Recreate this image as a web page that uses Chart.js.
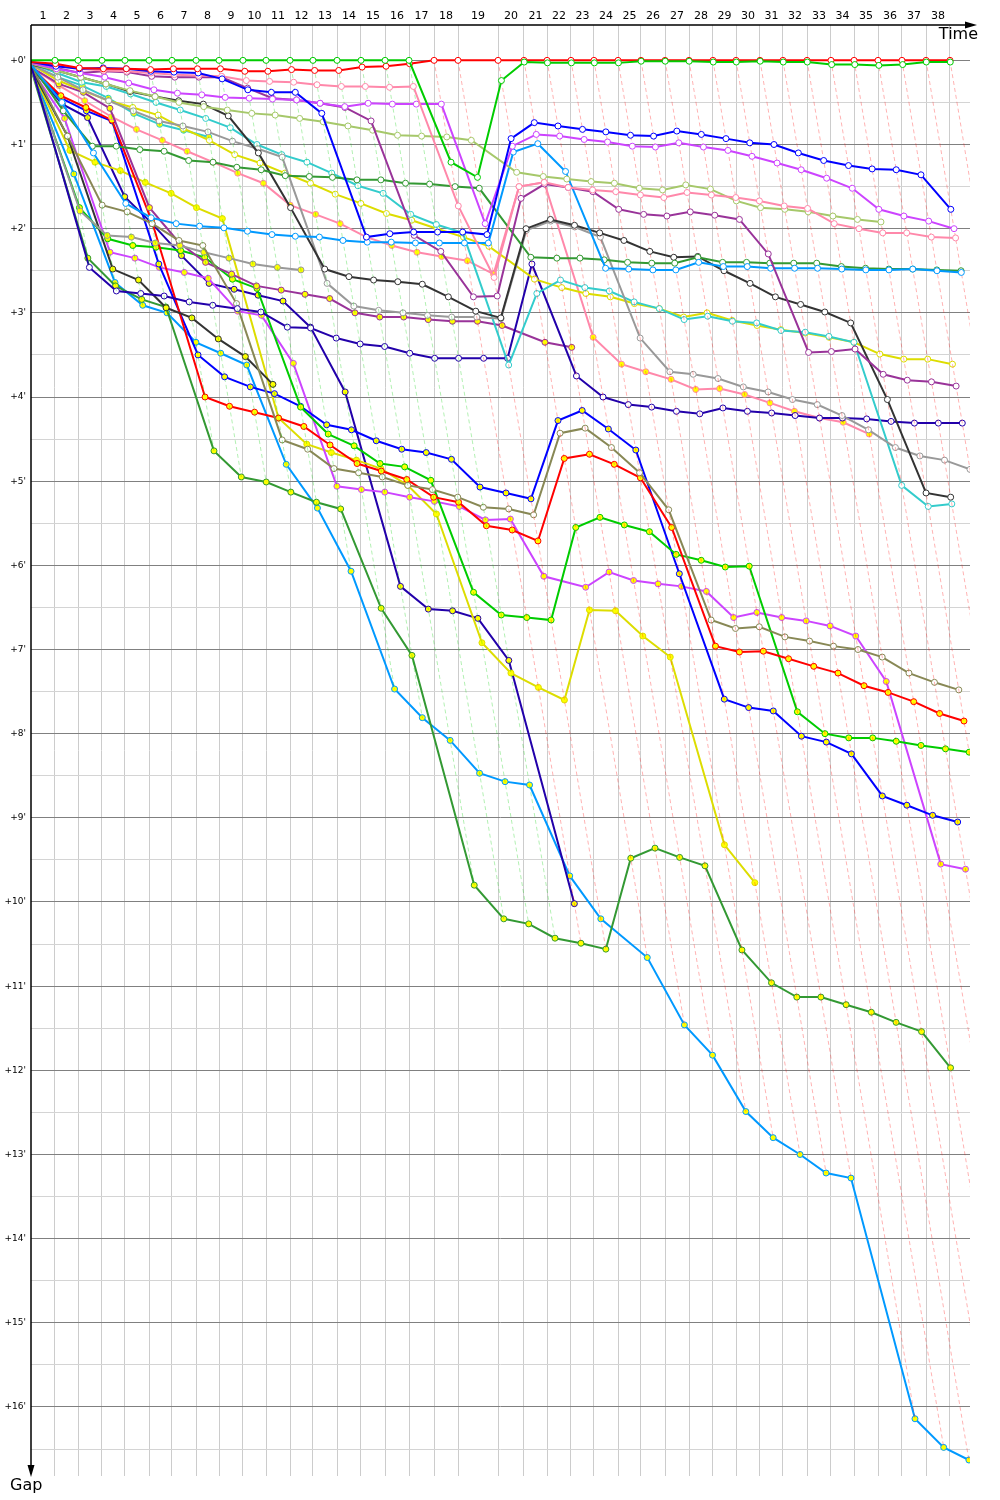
<!DOCTYPE html>
<html>
<head>
<meta charset="utf-8">
<script src="https://cdn.jsdelivr.net/npm/chart.js@4.4.1/dist/chart.umd.min.js"></script>
<style>
  html, body { margin: 0; padding: 0; background: #fff; }
  #wrap { width: 1000px; height: 1500px; position: relative; }
</style>
</head>
<body>
<div id="wrap"><canvas id="gapChart"></canvas></div>
<script>
// leader's elapsed time (minutes) at the end of each lap, lap 0 = start
const leaderTimes = [0, 1.71, 3.36, 5.07, 6.71, 8.43, 10.07, 11.79, 13.43, 15.14, 16.79,
  18.5, 20.14, 21.86, 23.57, 25.29, 27.0, 28.79, 30.5, 33.36, 35.21, 36.86, 38.57, 40.21,
  41.93, 43.57, 45.29, 47.0, 48.71, 50.36, 52.07, 53.71, 55.43, 57.14, 58.79, 60.5, 62.21,
  63.93, 65.64];
const lapNumbers = [1, 2, 3, 4, 5, 6, 7, 8, 9, 10, 11, 12, 13, 14, 15, 16, 17, 18, 19, 20,
  21, 22, 23, 24, 25, 26, 27, 28, 29, 30, 31, 32, 33, 34, 35, 36, 37, 38];
const gapMinutes = [0, 1, 2, 3, 4, 5, 6, 7, 8, 9, 10, 11, 12, 13, 14, 15, 16];

// gap to leader (minutes) per lap, index = lap
const greenW = [0, 0, 0, 0, 0, 0, 0, 0, 0, 0, 0, 0, 0, 0, 0, 0, 0, 1.21, 1.39, 0.24, 0.02,
  0.03, 0.03, 0.03, 0.03, 0.01, 0.01, 0.01, 0.02, 0.02, 0.01, 0.02, 0.02, 0.05, 0.05, 0.06, 0.05, 0.02, 0.02];
const redW = [0.02, 0.04, 0.09, 0.1, 0.1, 0.11, 0.1, 0.1, 0.1, 0.13, 0.13, 0.11, 0.12, 0.12, 0.08, 0.07, 0.04,
  0, 0, 0, 0, 0, 0, 0, 0, 0, 0, 0, 0, 0, 0, 0, 0, 0, 0, 0, 0, 0, 0];
const pinkW = [0.03, 0.05, 0.1, 0.12, 0.13, 0.15, 0.17, 0.18, 0.19, 0.24, 0.25, 0.26, 0.29, 0.31, 0.31, 0.32, 0.31,
  1.73, 2.58, 1.5, 1.45, 1.51, 1.54, 1.56, 1.6, 1.63, 1.57, 1.6, 1.63, 1.67, 1.73, 1.76, 1.94, 2.0, 2.05, 2.05, 2.1, 2.11];
const blueW = [0.02, 0.07, 0.1, 0.09, 0.1, 0.13, 0.14, 0.15, 0.22, 0.35, 0.38, 0.38, 0.63, 2.1, 2.06, 2.04, 2.04, 2.04, 2.07,
  0.93, 0.74, 0.78, 0.82, 0.85, 0.89, 0.9, 0.84, 0.88, 0.93, 0.98, 1.0, 1.1, 1.19, 1.25, 1.29, 1.3, 1.36, 1.77];
const purpleW = [0.03, 0.09, 0.15, 0.13, 0.14, 0.19, 0.2, 0.2, 0.2, 0.33, 0.45, 0.47, 0.51, 0.56, 0.72, 2.08, 2.27, 2.81, 2.8,
  1.64, 1.47, 1.51, 1.56, 1.77, 1.83, 1.85, 1.8, 1.84, 1.89, 2.3, 3.47, 3.46, 3.43, 3.73, 3.8, 3.82, 3.87];
const violetW = [0.03, 0.1, 0.15, 0.2, 0.27, 0.35, 0.39, 0.41, 0.44, 0.45, 0.46, 0.47, 0.51, 0.55, 0.51, 0.52, 0.52, 0.52, 1.94,
  1.02, 0.88, 0.9, 0.94, 0.97, 1.02, 1.03, 0.98, 1.03, 1.07, 1.14, 1.22, 1.3, 1.4, 1.52, 1.77, 1.85, 1.91, 2.0];
const oliveW = [0.04, 0.12, 0.2, 0.28, 0.36, 0.43, 0.5, 0.55, 0.59, 0.63, 0.65, 0.69, 0.73, 0.78, 0.83, 0.89, 0.9, 0.91, 0.95,
  1.33, 1.38, 1.41, 1.44, 1.46, 1.52, 1.54, 1.48, 1.53, 1.67, 1.75, 1.77, 1.8, 1.85, 1.89, 1.92];
const blackW = [0.05, 0.12, 0.2, 0.28, 0.37, 0.43, 0.48, 0.52, 0.66, 1.1, 1.75, 2.48, 2.57, 2.61, 2.63, 2.66, 2.81, 2.98, 3.06,
  2.0, 1.89, 1.96, 2.05, 2.14, 2.27, 2.34, 2.33, 2.5, 2.65, 2.81, 2.9, 2.99, 3.12, 4.03, 5.14, 5.19];
const grayW = [0.05, 0.2, 0.35, 0.48, 0.6, 0.72, 0.78, 0.85, 0.96, 1.05, 1.15, 2.65, 2.92, 2.97, 3.0, 3.03, 3.05, 3.05, 3.07,
  2.02, 1.91, 1.98, 2.1, 3.3, 3.7, 3.73, 3.78, 3.88, 3.94, 4.03, 4.09, 4.22, 4.39, 4.6, 4.7, 4.75, 4.86];
const cyanW = [0.04, 0.15, 0.26, 0.31, 0.4, 0.5, 0.59, 0.69, 0.8, 1.0, 1.12, 1.21, 1.34, 1.49, 1.58, 1.83, 1.95, 2.05, 3.62,
  2.77, 2.61, 2.7, 2.74, 2.87, 2.95, 3.08, 3.04, 3.1, 3.12, 3.21, 3.23, 3.28, 3.35, 5.05, 5.3, 5.27];
const skyW = [0.05, 0.5, 1.1, 1.7, 1.87, 1.94, 1.97, 1.99, 2.03, 2.07, 2.09, 2.1, 2.14, 2.16, 2.16, 2.17, 2.17, 2.17, 2.17,
  1.09, 0.99, 1.32, 2.47, 2.48, 2.49, 2.49, 2.4, 2.45, 2.45, 2.47, 2.47, 2.47, 2.48, 2.49, 2.49, 2.48, 2.5, 2.52];
const forestW = [0.05, 0.6, 1.02, 1.02, 1.06, 1.08, 1.19, 1.21, 1.27, 1.3, 1.37, 1.38, 1.39, 1.42, 1.42, 1.46, 1.47, 1.5, 1.52,
  2.34, 2.35, 2.35, 2.37, 2.4, 2.41, 2.41, 2.34, 2.4, 2.4, 2.41, 2.41, 2.41, 2.45, 2.47, 2.48, 2.48, 2.49, 2.5];
const navyW = [0.06, 2.46, 2.74, 2.77, 2.8, 2.87, 2.91, 2.95, 2.99, 3.17, 3.18, 3.3, 3.37, 3.4, 3.48, 3.54, 3.54, 3.54, 3.54,
  2.42, 3.75, 4.0, 4.09, 4.12, 4.17, 4.2, 4.13, 4.17, 4.19, 4.22, 4.25, 4.25, 4.26, 4.29, 4.31, 4.31, 4.31];
const khakiW = [0.06, 0.9, 1.72, 1.8, 1.94, 2.14, 2.2, 2.89, 4.51, 4.62, 4.85, 4.9, 4.95, 5.05, 5.1, 5.19, 5.31, 5.33, 5.4,
  4.43, 4.37, 4.6, 4.9, 5.34, 6.65, 6.75, 6.73, 6.85, 6.9, 6.96, 7.0, 7.09, 7.28, 7.39, 7.48];
const yellowW = [0.05, 0.24, 0.36, 0.48, 0.56, 0.65, 0.81, 0.95, 1.12, 1.22, 1.34, 1.46, 1.59, 1.7, 1.82, 1.9, 2.0, 2.1, 2.21,
  2.6, 2.7, 2.77, 2.81, 2.89, 2.95, 3.05, 3.0, 3.09, 3.15, 3.2, 3.24, 3.29, 3.35, 3.49, 3.55, 3.55, 3.61];

const yellowY = [0.1, 1.07, 1.21, 1.31, 1.45, 1.58, 1.75, 1.88, 4.25, 4.56, 4.66, 4.75, 4.85, 5.05, 5.39, 6.92, 7.28, 7.45, 7.6,
  6.53, 6.54, 6.84, 7.09, 9.32, 9.77];
const pinkY = [0.08, 0.3, 0.48, 0.67, 0.82, 0.95, 1.08, 1.21, 1.34, 1.46, 1.72, 1.83, 1.94, 2.1, 2.2, 2.28, 2.33, 2.38, 2.54,
  1.5, 1.45, 3.29, 3.61, 3.7, 3.79, 3.91, 3.9, 3.97, 4.07, 4.17, 4.25, 4.3, 4.44];
const skyY = [0.1, 1.35, 2.64, 2.91, 3.0, 3.35, 3.48, 3.62, 4.8, 5.32, 6.07, 7.47, 7.81, 8.08, 8.47, 8.57, 8.61, 9.69, 10.2,
  10.66, 11.46, 11.82, 12.49, 12.8, 13.0, 13.22, 13.28, 16.14, 16.48, 16.63];
const forestY = [0.1, 2.35, 2.68, 2.84, 2.93, 4.64, 4.95, 5.01, 5.13, 5.25, 5.33, 6.51, 7.07, 9.8, 10.2, 10.26, 10.43, 10.49, 10.56,
  9.48, 9.36, 9.47, 9.57, 10.57, 10.96, 11.13, 11.13, 11.22, 11.31, 11.43, 11.54, 11.97];
const greenY = [0.1, 1.75, 2.12, 2.2, 2.22, 2.26, 2.34, 2.6, 2.71, 4.12, 4.44, 4.58, 4.79, 4.83, 4.99, 6.32, 6.59, 6.62, 6.65,
  5.55, 5.43, 5.52, 5.6, 5.87, 5.94, 6.02, 6.01, 7.74, 8.0, 8.05, 8.05, 8.09, 8.14, 8.18, 8.22];
const redY = [0.08, 0.42, 0.56, 0.71, 1.9, 4.0, 4.11, 4.18, 4.25, 4.35, 4.57, 4.79, 4.88, 4.98, 5.19, 5.25, 5.53, 5.58, 5.71,
  4.73, 4.68, 4.8, 4.96, 5.55, 6.96, 7.03, 7.02, 7.11, 7.2, 7.28, 7.43, 7.51, 7.62, 7.76, 7.85];
const blueY = [0.08, 0.45, 0.6, 0.72, 2.42, 3.5, 3.76, 3.88, 3.96, 4.11, 4.33, 4.39, 4.52, 4.62, 4.66, 4.74, 5.07, 5.14, 5.21,
  4.28, 4.16, 4.38, 4.63, 6.1, 7.59, 7.69, 7.73, 8.03, 8.1, 8.24, 8.74, 8.85, 8.97, 9.05];
const navyY = [0.08, 0.52, 0.68, 1.62, 1.94, 2.32, 2.65, 2.72, 2.79, 2.86, 3.17, 3.94, 6.25, 6.52, 6.54, 6.63, 7.13, 10.02];
const violetY = [0.1, 0.69, 2.28, 2.35, 2.46, 2.52, 2.59, 2.98, 3.03, 3.6, 5.06, 5.1, 5.13, 5.19, 5.24, 5.3, 5.46, 5.45, 6.13,
  6.26, 6.08, 6.18, 6.22, 6.25, 6.31, 6.62, 6.56, 6.62, 6.66, 6.72, 6.84, 7.38, 9.55, 9.61];
const blackY = [0.1, 0.9, 2.48, 2.61, 2.94, 3.06, 3.31, 3.52, 3.85];
const purpleY = [0.08, 0.28, 0.38, 0.57, 1.75, 2.17, 2.4, 2.54, 2.68, 2.73, 2.78, 2.83, 3.0, 3.05, 3.05, 3.08, 3.1, 3.1, 3.15,
  3.35, 3.41];
const grayY = [0.1, 1.79, 2.08, 2.1, 2.17, 2.2, 2.28, 2.35, 2.42, 2.46, 2.49];
const cyanY = [0.05, 0.2, 0.3, 0.45, 0.63, 0.76, 0.83, 0.91];

const X_MAX = 67.07;
const GAP_MIN = -0.42;
const GAP_MAX = 16.82;

const cars = [
  { gaps: skyY, color: '#0099ff', dot: '#ffff00' },
  { gaps: forestY, color: '#339933', dot: '#ffff00' },
  { gaps: navyY, color: '#2200aa', dot: '#ffff00' },
  { gaps: yellowY, color: '#dddd00', dot: '#ffff00' },
  { gaps: violetY, color: '#cc44ff', dot: '#ffff00' },
  { gaps: blueY, color: '#0000ff', dot: '#ffff00' },
  { gaps: greenY, color: '#00cc00', dot: '#ffff00' },
  { gaps: redY, color: '#ff0000', dot: '#ffff00' },
  { gaps: pinkY, color: '#ff88aa', dot: '#ffff00' },
  { gaps: purpleY, color: '#993399', dot: '#ffff00' },
  { gaps: blackY, color: '#333333', dot: '#ffff00' },
  { gaps: grayY, color: '#999999', dot: '#ffff00' },
  { gaps: cyanY, color: '#33cccc', dot: '#ffff00' },
  { gaps: khakiW, color: '#888855', dot: '#ffffff' },
  { gaps: navyW, color: '#2200aa', dot: '#ffffff' },
  { gaps: yellowW, color: '#dddd00', dot: '#ffffff' },
  { gaps: cyanW, color: '#33cccc', dot: '#ffffff' },
  { gaps: grayW, color: '#999999', dot: '#ffffff' },
  { gaps: blackW, color: '#333333', dot: '#ffffff' },
  { gaps: forestW, color: '#339933', dot: '#ffffff' },
  { gaps: skyW, color: '#0099ff', dot: '#ffffff' },
  { gaps: oliveW, color: '#a6c86a', dot: '#ffffff' },
  { gaps: purpleW, color: '#993399', dot: '#ffffff' },
  { gaps: violetW, color: '#cc44ff', dot: '#ffffff' },
  { gaps: pinkW, color: '#ff88aa', dot: '#ffffff' },
  { gaps: blueW, color: '#0000ff', dot: '#ffffff' },
  { gaps: redW, color: '#ff0000', dot: '#ffffff' },
  { gaps: greenW, color: '#00cc00', dot: '#ffffff' }
];

const toPoints = gaps => gaps.map((g, lap) => ({ x: leaderTimes[lap] + (lap === 0 ? 0 : g), y: g }));

// a car still circling when the picture stops keeps the lap line open to the bottom
const stillRunning = c => {
  const last = c.gaps.length - 1;
  return leaderTimes[last] + c.gaps[last] + 1.5 > X_MAX;
};

const lapLines = [];
for (let lap = 1; lap < leaderTimes.length; lap++) {
  let depth = 0;
  let leader = cars[0];
  cars.forEach(c => {
    if (lap < c.gaps.length) {
      depth = Math.max(depth, c.gaps[lap]);
      if (c.gaps[lap] === 0) leader = c;
    } else if (stillRunning(c)) {
      depth = GAP_MAX;
    }
  });
  const t = leaderTimes[lap];
  const rgb = leader.color.match(/\w\w/g).map(h => parseInt(h, 16)).join(',');
  lapLines.push({
    data: [{ x: t, y: 0 }, { x: t + depth, y: depth }],
    borderColor: 'rgba(' + rgb + ',0.3)',
    borderWidth: 1,
    borderDash: [4, 3],
    pointRadius: 0,
    xAxisID: 'x',
    yAxisID: 'y',
    order: 10
  });
}

const carSets = cars.map((c, i) => ({
  data: toPoints(c.gaps),
  borderColor: c.color,
  borderWidth: 2,
  pointBackgroundColor: c.dot,
  pointBorderColor: c.color,
  pointBorderWidth: 1,
  pointRadius: ctx => (ctx.dataIndex === 0 ? 0 : 3),
  xAxisID: 'x',
  yAxisID: 'y',
  order: cars.length - i
}));

const axisArrows = {
  id: 'axisArrows',
  afterDraw(chart) {
    const { ctx, chartArea: a } = chart;
    ctx.save();
    ctx.strokeStyle = '#000';
    ctx.fillStyle = '#000';
    ctx.lineWidth = 1.5;
    ctx.beginPath();
    ctx.moveTo(a.left, a.top);
    ctx.lineTo(a.right - 4, a.top);
    ctx.moveTo(a.left, a.top);
    ctx.lineTo(a.left, a.bottom - 10);
    ctx.stroke();
    ctx.beginPath();
    ctx.moveTo(a.right + 7, a.top);
    ctx.lineTo(a.right - 5, a.top - 3.5);
    ctx.lineTo(a.right - 5, a.top + 3.5);
    ctx.closePath();
    ctx.fill();
    ctx.beginPath();
    ctx.moveTo(a.left, a.bottom + 1);
    ctx.lineTo(a.left - 3.5, a.bottom - 11);
    ctx.lineTo(a.left + 3.5, a.bottom - 11);
    ctx.closePath();
    ctx.fill();
    ctx.font = '16px "DejaVu Sans", sans-serif';
    ctx.textBaseline = 'top';
    ctx.textAlign = 'right';
    ctx.fillText('Time', a.right + 8, a.top + 2);
    ctx.textAlign = 'left';
    ctx.fillText('Gap', 10, a.bottom + 2);
    ctx.restore();
  }
};

new Chart(document.getElementById('gapChart'), {
  type: 'line',
  data: { datasets: carSets.concat(lapLines) },
  options: {
    responsive: true,
    maintainAspectRatio: false,
    animation: false,
    events: [],
    layout: { padding: { left: 0, right: 30, top: 0, bottom: 24 } },
    elements: { line: { tension: 0 } },
    plugins: { legend: { display: false }, tooltip: { enabled: false } },
    scales: {
      laps: {
        type: 'linear',
        axis: 'x',
        position: 'top',
        min: 0,
        max: X_MAX,
        afterBuildTicks: s => {
          s.ticks = lapNumbers.map((n, i) => ({ value: (leaderTimes[i] + leaderTimes[i + 1]) / 2 }));
        },
        ticks: {
          autoSkip: false,
          maxRotation: 0,
          padding: 2,
          color: '#000',
          font: { family: '"DejaVu Sans", sans-serif', size: 11 },
          callback: (v, i) => String(lapNumbers[i])
        },
        grid: { display: false, drawTicks: false },
        border: { display: false },
        afterFit: s => { s.height = 25; }
      },
      x: {
        type: 'linear',
        position: 'top',
        min: 0,
        max: X_MAX,
        afterBuildTicks: s => {
          s.ticks = leaderTimes.slice(1).map(v => ({ value: v }));
        },
        ticks: { display: false },
        grid: { color: '#cccccc', drawTicks: false },
        border: { display: false },
        afterFit: s => { s.height = 0; }
      },
      y: {
        type: 'linear',
        reverse: true,
        min: GAP_MIN,
        max: GAP_MAX,
        afterBuildTicks: s => {
          s.ticks = gapMinutes.flatMap(m => [{ value: m }, { value: m + 0.5 }]);
        },
        ticks: {
          autoSkip: false,
          padding: 5,
          color: '#000',
          font: { family: '"DejaVu Sans", sans-serif', size: 9 },
          callback: v => (Number.isInteger(v) ? "+" + v + "'" : '')
        },
        grid: {
          drawTicks: false,
          color: c => (c.tick && Number.isInteger(c.tick.value) ? '#808080' : '#d4d4d4')
        },
        border: { display: false },
        afterFit: s => { s.width = 31; }
      }
    }
  },
  plugins: [axisArrows]
});
</script>
</body>
</html>
